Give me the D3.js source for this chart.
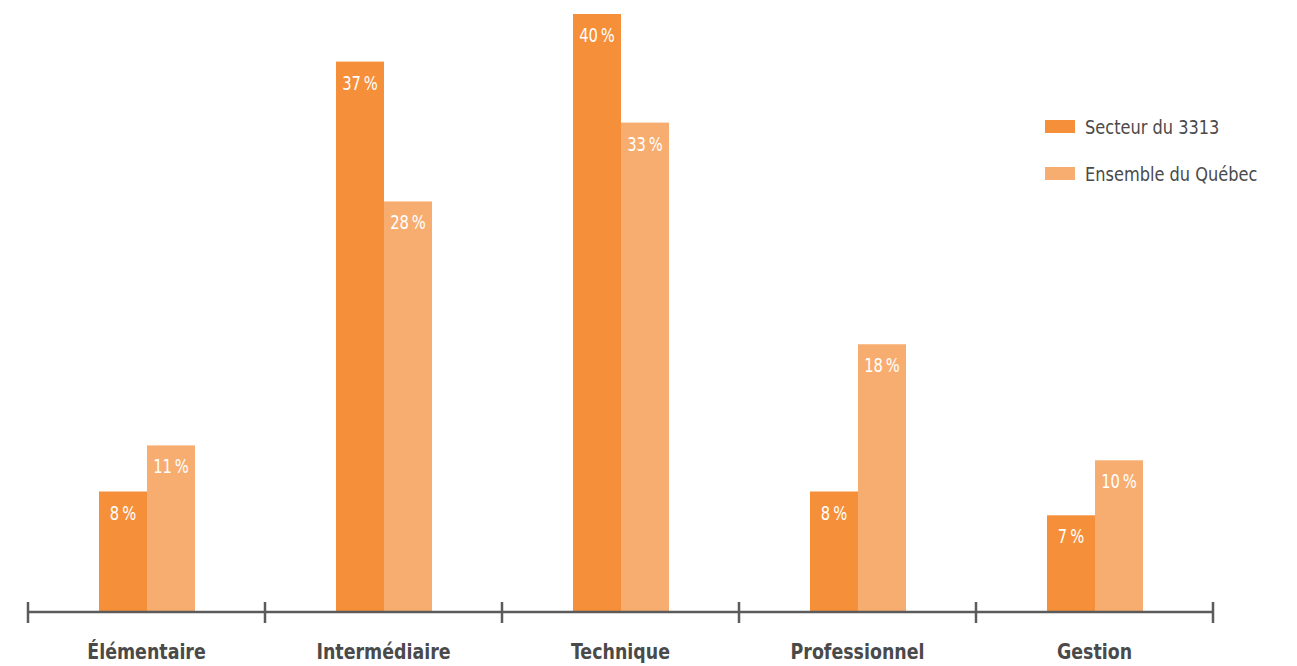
<!DOCTYPE html>
<html><head><meta charset="utf-8">
<script src="https://cdn.jsdelivr.net/npm/d3@7"></script>
<style>
html,body{margin:0;padding:0;background:#fff;}
svg{display:block;}
</style></head>
<body>
<svg id="chart" width="1297" height="666"></svg>
<script>
const categories = ["Élémentaire", "Intermédiaire", "Technique", "Professionnel", "Gestion"];
const seriesNames = ["Secteur du 3313", "Ensemble du Québec"];
const secteur3313 = [8.1, 37.0, 40.2, 8.1, 6.5];
const ensembleQuebec = [11.2, 27.6, 32.9, 18.0, 10.2];
const seriesColors = ["#F58F39", "#F8AD70"];

const font = "'DejaVu Sans Condensed', 'Liberation Sans Narrow', sans-serif";
const svg = d3.select("#chart");

const x = d3.scaleBand().domain(categories).range([28, 1213]).paddingInner(0).paddingOuter(0);
const y = d3.scaleLinear().domain([0, 40.2]).range([612, 14]);
const barW = 48;
const series = [secteur3313, ensembleQuebec];
const cx = (c) => Math.round(x(c) + x.bandwidth()/2);

series.forEach((vals, si) => {
  const g = svg.append("g");
  g.selectAll("rect").data(categories).join("rect")
    .attr("x", (c) => cx(c) - barW + si*barW)
    .attr("y", (c, i) => y(vals[i]))
    .attr("width", barW)
    .attr("height", (c, i) => y(0) - y(vals[i]))
    .attr("fill", seriesColors[si]);
  g.selectAll("text").data(categories).join("text")
    .attr("transform", (c, i) => `translate(${cx(c) - barW/2 + si*barW},${y(vals[i]) + 28}) scale(0.82,1)`)
    .attr("text-anchor", "middle")
    .attr("fill", "#fff")
    .style("font-family", font)
    .style("font-size", "20px")
    .text((c, i) => Math.round(vals[i]) + "\u2009%");
});

// axis
const axisG = svg.append("g").attr("transform", "translate(0,612)");
const axis = d3.axisBottom(x).tickSize(0).tickFormat(d => d);
axisG.call(axis);
axisG.select(".domain").attr("stroke", "#5b5b5b").attr("stroke-width", 2.5)
  .attr("d", `M28,0H1213`);
const edges = categories.map(c => x(c)).concat([x(categories[categories.length-1]) + x.bandwidth()]);
axisG.selectAll("line.edge").data(edges).join("line")
  .attr("class", "edge")
  .attr("x1", d => d).attr("x2", d => d)
  .attr("y1", -10).attr("y2", 11)
  .attr("stroke", "#5b5b5b").attr("stroke-width", 2.5);
axisG.selectAll(".tick text")
  .attr("y", 0).attr("dy", 0)
  .attr("transform", "translate(0,47) scale(0.88,1)")
  .attr("fill", "#4a4a4a")
  .style("font-family", font)
  .style("font-size", "22px")
  .style("font-weight", "bold");

// legend
const legend = svg.append("g");
seriesNames.forEach((name, i) => {
  legend.append("rect")
    .attr("x", 1045).attr("y", 120 + i*47)
    .attr("width", 30).attr("height", 13)
    .attr("fill", seriesColors[i]);
  legend.append("text")
    .attr("transform", `translate(1085,${134 + i*47}) scale(0.9,1)`)
    .attr("fill", "#4a4a4a")
    .style("font-family", font)
    .style("font-size", "20px")
    .text(name);
});
</script>
</body></html>
